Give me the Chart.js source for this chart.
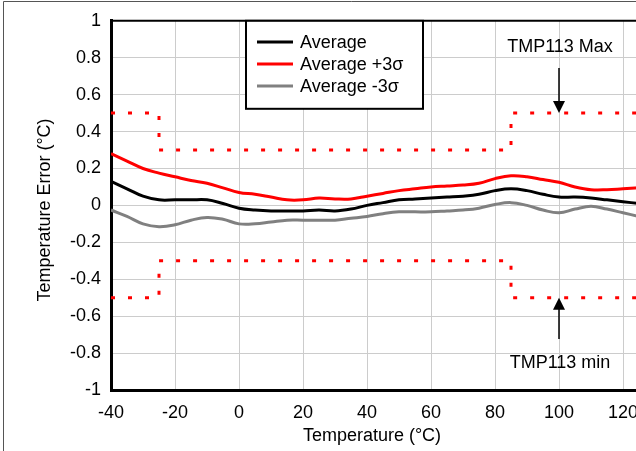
<!DOCTYPE html>
<html>
<head>
<meta charset="utf-8">
<script src="https://cdn.jsdelivr.net/npm/chart.js@4.4.1/dist/chart.umd.min.js"></script>
<style>
  html, body { margin: 0; padding: 0; overflow: hidden; background: #fff; }
  #wrap { position: absolute; left: 0; top: 0; width: 700px; height: 451px; }
</style>
</head>
<body>
<div id="wrap"><canvas id="errChart" width="700" height="451"></canvas></div>
<script>
const temps = [-40, -35, -30, -25, -20, -15, -10, -5, 0, 5, 10, 15, 20, 25, 30, 35, 40, 45, 50, 55, 60, 65, 70, 75, 80, 85, 90, 95, 100, 105, 110, 115, 120, 125];
const average = [0.13, 0.09, 0.05, 0.03, 0.03, 0.03, 0.03, 0.01, -0.015, -0.025, -0.03, -0.03, -0.03, -0.025, -0.03, -0.02, 0.0, 0.015, 0.03, 0.035, 0.04, 0.045, 0.05, 0.06, 0.08, 0.09, 0.08, 0.06, 0.045, 0.045, 0.04, 0.03, 0.02, 0.01];
const averagePlus3s = [0.28, 0.24, 0.2, 0.175, 0.155, 0.135, 0.12, 0.095, 0.07, 0.06, 0.045, 0.03, 0.03, 0.04, 0.035, 0.035, 0.05, 0.065, 0.08, 0.09, 0.1, 0.105, 0.11, 0.12, 0.145, 0.16, 0.155, 0.14, 0.125, 0.1, 0.085, 0.085, 0.09, 0.095];
const averageMinus3s = [-0.025, -0.06, -0.1, -0.115, -0.105, -0.08, -0.065, -0.075, -0.1, -0.1, -0.09, -0.08, -0.08, -0.08, -0.08, -0.07, -0.06, -0.045, -0.035, -0.035, -0.035, -0.03, -0.025, -0.015, 0.005, 0.015, 0.0, -0.025, -0.04, -0.02, -0.005, -0.02, -0.04, -0.06];

// TMP113 spec limits
const limitX = [-40, -25, -25, 85, 85, 125];
const maxLimit = [0.5, 0.5, 0.3, 0.3, 0.5, 0.5];
const minLimit = [-0.5, -0.5, -0.3, -0.3, -0.5, -0.5];

const FONT = 'Liberation Sans, Arial, sans-serif';

function pts(xs, ys) {
    return xs.map((x, i) => ({ x: x, y: ys[i] }));
}

const legendItems = [
    { label: 'Average', color: '#000000' },
    { label: 'Average +3\u03C3', color: '#ff0000' },
    { label: 'Average -3\u03C3', color: '#808080' }
];

const overlayPlugin = {
    id: 'overlay',
    afterDraw(chart) {
        const ctx = chart.ctx;
        const xs = chart.scales.x;
        const ys = chart.scales.y;
        const area = chart.chartArea;
        ctx.save();

        // outer frame of the picture
        ctx.strokeStyle = '#555';
        ctx.lineWidth = 1;
        ctx.beginPath();
        ctx.moveTo(3.5, 451);
        ctx.lineTo(3.5, 1.5);
        ctx.lineTo(700, 1.5);
        ctx.stroke();

        // top border of plot
        ctx.strokeStyle = '#000';
        ctx.lineWidth = 2;
        ctx.beginPath();
        ctx.moveTo(area.left, area.top);
        ctx.lineTo(area.right, area.top);
        ctx.stroke();

        // legend box
        const bx = 246, by = area.top, bw = 177, bh = 88;
        ctx.fillStyle = '#fff';
        ctx.fillRect(bx, by, bw, bh);
        ctx.lineWidth = 2;
        ctx.strokeStyle = '#000';
        ctx.strokeRect(bx, by, bw, bh);
        ctx.font = '18px ' + FONT;
        ctx.textBaseline = 'middle';
        ctx.textAlign = 'left';
        legendItems.forEach((item, i) => {
            const y = 42 + i * 22;
            ctx.strokeStyle = item.color;
            ctx.lineWidth = 3;
            ctx.beginPath();
            ctx.moveTo(257, y);
            ctx.lineTo(293, y);
            ctx.stroke();
            ctx.fillStyle = '#000';
            ctx.fillText(item.label, 300, y + 1);
        });

        // annotations
        const ax = xs.getPixelForValue(100);
        ctx.fillStyle = '#000';
        ctx.strokeStyle = '#000';
        ctx.textAlign = 'center';
        ctx.fillText('TMP113 Max', ax + 1, 47);
        ctx.fillText('TMP113 min', ax + 1, 363);

        const topTip = ys.getPixelForValue(0.5);
        const botTip = ys.getPixelForValue(-0.5);
        ctx.lineWidth = 1.5;
        ctx.beginPath();
        ctx.moveTo(ax, 68);
        ctx.lineTo(ax, topTip - 10);
        ctx.moveTo(ax, 339);
        ctx.lineTo(ax, botTip + 10);
        ctx.stroke();
        ctx.beginPath();
        ctx.moveTo(ax, topTip);
        ctx.lineTo(ax - 6, topTip - 12);
        ctx.lineTo(ax + 6, topTip - 12);
        ctx.closePath();
        ctx.fill();
        ctx.beginPath();
        ctx.moveTo(ax, botTip);
        ctx.lineTo(ax - 6, botTip + 12);
        ctx.lineTo(ax + 6, botTip + 12);
        ctx.closePath();
        ctx.fill();

        // axis titles
        ctx.fillText('Temperature (\u00B0C)', 372, 436);
        ctx.translate(45, 210);
        ctx.rotate(-Math.PI / 2);
        ctx.fillText('Temperature Error (\u00B0C)', 0, 0);

        ctx.restore();
    }
};

const ctx = document.getElementById('errChart').getContext('2d');
new Chart(ctx, {
    type: 'line',
    data: {
        datasets: [{
            label: 'TMP113 Max',
            data: pts(limitX, maxLimit),
            borderColor: '#ff0000',
            borderWidth: 3,
            borderDash: [4, 13],
            pointRadius: 0,
            tension: 0
        }, {
            label: 'TMP113 min',
            data: pts(limitX, minLimit),
            borderColor: '#ff0000',
            borderWidth: 3,
            borderDash: [4, 13],
            pointRadius: 0,
            tension: 0
        }, {
            label: 'Average -3s',
            data: pts(temps, averageMinus3s),
            borderColor: '#808080',
            borderWidth: 3,
            pointRadius: 0,
            tension: 0.4
        }, {
            label: 'Average +3s',
            data: pts(temps, averagePlus3s),
            borderColor: '#ff0000',
            borderWidth: 3,
            pointRadius: 0,
            tension: 0.4
        }, {
            label: 'Average',
            data: pts(temps, average),
            borderColor: '#000000',
            borderWidth: 3,
            pointRadius: 0,
            tension: 0.4
        }]
    },
    options: {
        responsive: false,
        animation: false,
        layout: { padding: { left: 0, right: 61, top: 20, bottom: 0 } },
        plugins: {
            legend: { display: false },
            tooltip: { enabled: false }
        },
        scales: {
            x: {
                type: 'linear',
                min: -40,
                max: 125,
                afterFit: scale => { scale.height = 61; },
                grid: { color: '#cccccc', lineWidth: 1, drawTicks: false },
                border: { color: '#000', width: 3 },
                ticks: {
                    stepSize: 20,
                    includeBounds: false,
                    padding: 12,
                    color: '#000',
                    font: { family: FONT, size: 18 }
                }
            },
            y: {
                min: -1,
                max: 1,
                afterFit: scale => { scale.width = 111; },
                grid: { color: '#cccccc', lineWidth: 1, drawTicks: false },
                border: { color: '#000', width: 3 },
                ticks: {
                    stepSize: 0.2,
                    padding: 10,
                    color: '#000',
                    font: { family: FONT, size: 18 },
                    callback: value => String(parseFloat(value.toFixed(1)))
                }
            }
        }
    },
    plugins: [overlayPlugin]
});
</script>
</body>
</html>
